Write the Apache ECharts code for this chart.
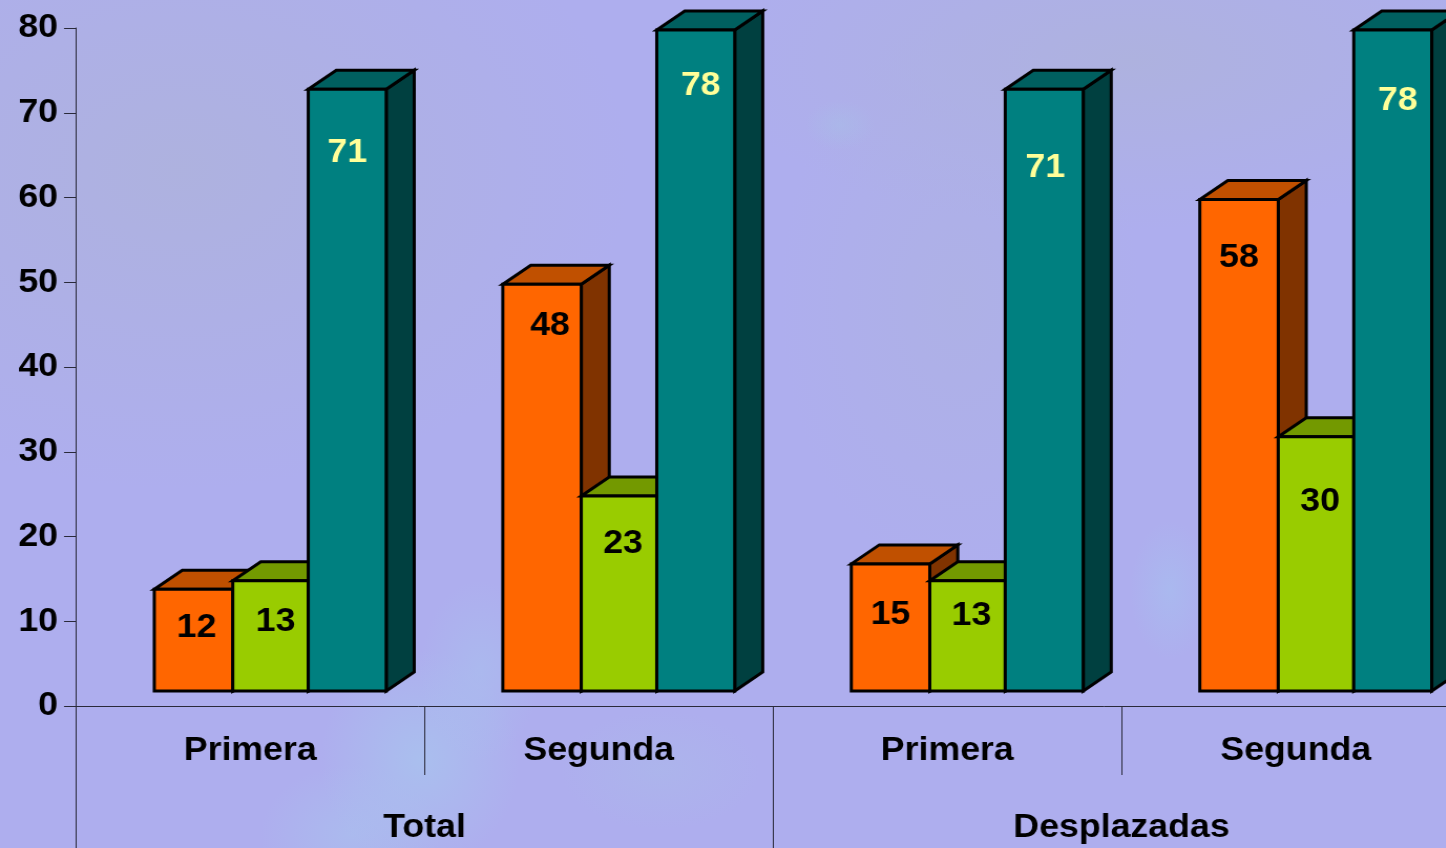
<!DOCTYPE html>
<html>
<head>
<meta charset="utf-8">
<script src="https://cdn.jsdelivr.net/npm/echarts@6/dist/echarts.min.js"></script>
<style>
html,body{margin:0;padding:0;width:1446px;height:848px;overflow:hidden;
background-color:#aeaeee;
background-image:
 radial-gradient(ellipse 60px 90px at 480px 670px,rgba(168,195,238,.5),rgba(168,195,238,0)),
 radial-gradient(ellipse 100px 110px at 420px 760px,rgba(168,198,238,.7),rgba(168,198,238,0)),
 radial-gradient(ellipse 90px 70px at 350px 835px,rgba(168,198,238,.5),rgba(168,198,238,0)),
 radial-gradient(ellipse 100px 60px at 660px 770px,rgba(170,190,232,.4),rgba(170,190,232,0)),
 radial-gradient(ellipse 40px 70px at 1170px 590px,rgba(166,195,240,.5),rgba(166,195,240,0)),
 radial-gradient(ellipse 35px 25px at 840px 125px,rgba(168,190,232,.5),rgba(168,190,232,0)),
 radial-gradient(ellipse 450px 320px at 180px 170px,rgba(174,178,222,.95),rgba(174,178,222,0)),
 radial-gradient(ellipse 420px 170px at 1130px 60px,rgba(174,178,222,.95),rgba(174,178,222,0)),
 radial-gradient(ellipse 180px 280px at 960px 300px,rgba(174,178,226,.7),rgba(174,178,226,0));}
#stretch{position:absolute;left:0;top:0;height:848px;transform-origin:0 0;}
</style>
</head>
<body>
<div id="stretch"></div>
<script>
const categories = ['Primera', 'Segunda', 'Primera', 'Segunda'];
const groups = ['Total', 'Desplazadas'];
const yTicks = [0, 10, 20, 30, 40, 50, 60, 70, 80];
const orangeValues = [12, 48, 15, 58];
const greenValues = [13, 23, 13, 30];
const tealValues = [71, 78, 71, 78];

// The reference picture is a horizontally stretched slide
const SX = 1.05;
const px = v => v / SX;
const el = document.getElementById('stretch');
el.style.width = px(1446) + 'px';
el.style.transform = 'scaleX(' + SX + ')';

const font = '"Liberation Sans", Arial, sans-serif';
const axisColor = '#2a2a3a';
const palette = [
  { front: '#FF6600', top: '#C05000', side: '#803300', text: '#000000' },
  { front: '#99CC00', top: '#739900', side: '#4D6600', text: '#000000' },
  { front: '#008080', top: '#006060', side: '#004040', text: '#FFFF99' }
];
// bar edges inside the cluster, as shares of a band
const barEdges = [0, 0.2252, 0.4418, 0.6655];
// label placement inside each bar: horizontal shift, drop below bar top
const labelPlacement = [
  [[3, 38], [8, 41], [0, 51], [0, 58]],
  [[5, 41], [4, 48], [4, 35], [4, 65]],
  [[0, 63], [5, 56], [1, 78], [5, 71]]
];

function renderer(s) {
  return function (params, api) {
    const i = api.value(0), v = api.value(1);
    const c = palette[s];
    const center = api.coord([i, 0])[0];
    const band = api.size([1, 0])[0];
    const floorUp = 15, shiftX = px(20), dx = px(28), dy = 19;
    const start = center + shiftX - band * barEdges[3] / 2;
    const x0 = start + band * barEdges[s], x1 = start + band * barEdges[s + 1];
    const yB = api.coord([i, 0])[1] - floorUp;
    const yT = api.coord([i, v])[1] - floorUp;
    const line = { stroke: '#000', lineWidth: 3, lineJoin: 'miter' };
    const poly = (pts, fill) => ({
      type: 'polygon', shape: { points: pts },
      style: Object.assign({ fill: fill }, line)
    });
    const p = labelPlacement[s][i];
    return {
      type: 'group',
      children: [
        poly([[x1, yB], [x1 + dx, yB - dy], [x1 + dx, yT - dy], [x1, yT]], c.side),
        poly([[x0, yT], [x0 + dx, yT - dy], [x1 + dx, yT - dy], [x1, yT]], c.top),
        poly([[x0, yB], [x1, yB], [x1, yT], [x0, yT]], c.front),
        {
          type: 'text',
          style: {
            text: String(v),
            x: (x0 + x1) / 2 + px(p[0]),
            y: yT + p[1],
            fill: c.text,
            font: 'bold 34px ' + font,
            textAlign: 'center',
            textVerticalAlign: 'middle'
          }
        }
      ]
    };
  };
}

const chart = echarts.init(el, null, { renderer: 'canvas' });
chart.setOption({
  animation: false,
  backgroundColor: 'transparent',
  grid: { left: px(76), width: px(1394), top: 28, height: 678, outerBoundsMode: 'none', containLabel: false },
  xAxis: [
    {
      type: 'category', data: categories, position: 'bottom',
      axisLine: { show: true, lineStyle: { color: axisColor, width: 1 } },
      axisTick: { show: true, alignWithLabel: false, length: 69, lineStyle: { color: axisColor, width: 1 } },
      axisLabel: { interval: 0, margin: 28, color: '#000', fontSize: 34, fontWeight: 'bold', fontFamily: font }
    },
    {
      type: 'category', data: groups, position: 'bottom',
      axisLine: { show: false },
      axisTick: { show: true, length: 142, lineStyle: { color: axisColor, width: 1 } },
      axisLabel: { interval: 0, margin: 105, color: '#000', fontSize: 34, fontWeight: 'bold', fontFamily: font }
    }
  ],
  yAxis: {
    type: 'value', min: yTicks[0], max: yTicks[yTicks.length - 1], interval: yTicks[1] - yTicks[0],
    axisLine: { show: true, lineStyle: { color: axisColor, width: 1 } },
    axisTick: { show: true, length: px(12), lineStyle: { color: axisColor, width: 1 } },
    splitLine: { show: false },
    axisLabel: { margin: px(18), color: '#000', fontSize: 34, fontWeight: 'bold', fontFamily: font }
  },
  series: [orangeValues, greenValues, tealValues].map((vals, s) => ({
    type: 'custom',
    xAxisIndex: 0,
    yAxisIndex: 0,
    clip: false,
    encode: { x: 0, y: 1 },
    data: vals.map((v, i) => [i, v]),
    renderItem: renderer(s)
  }))
});
</script>
</body>
</html>
